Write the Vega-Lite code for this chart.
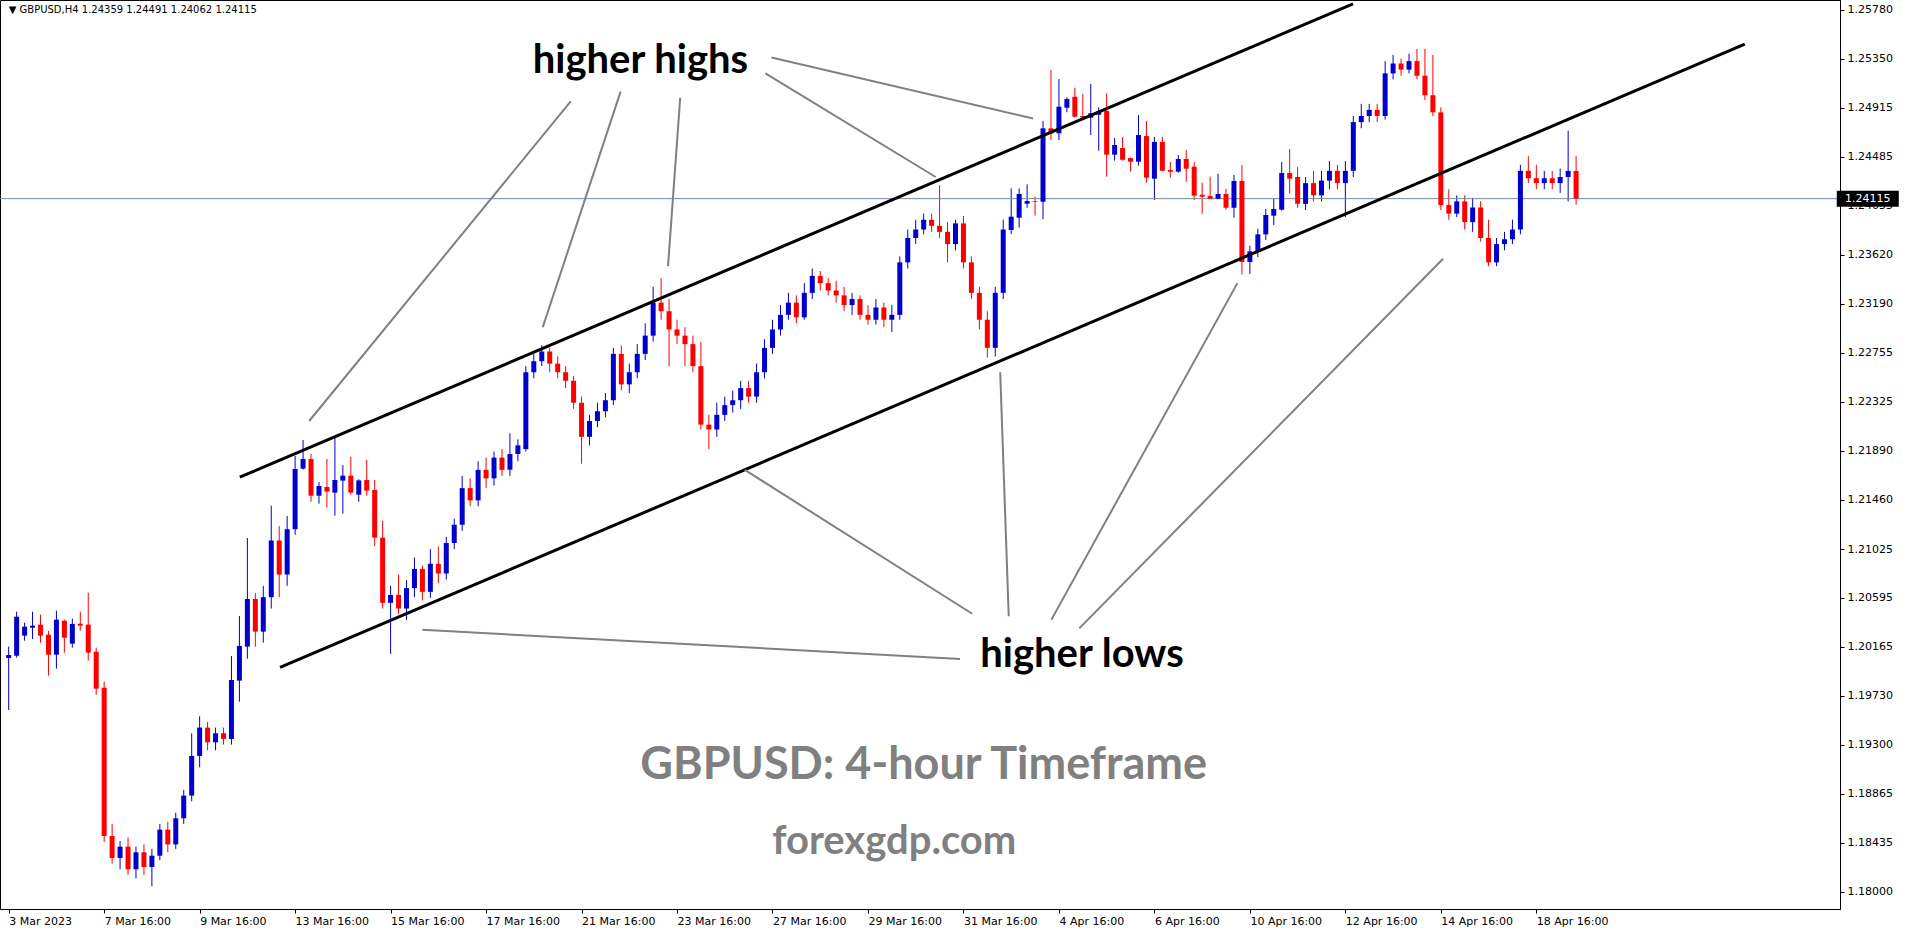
{
"$schema":"https://vega.github.io/schema/vega-lite/v6.json",
"width":1840,"height":909,
"autosize":{"type":"none"},
"padding":{"left":0,"top":0,"right":76,"bottom":27},
"background":"white",
"config":{"view":{"stroke":"black","strokeWidth":1},"font":"DejaVu Sans"},
"datasets":{
"candles":[
{"i":0,"o":1.20064,"h":1.20164,"l":1.19605,"c":1.20090},
{"i":1,"o":1.20084,"h":1.20472,"l":1.20067,"c":1.20428},
{"i":2,"o":1.20261,"h":1.20375,"l":1.20216,"c":1.20340},
{"i":3,"o":1.20331,"h":1.20472,"l":1.20231,"c":1.20349},
{"i":4,"o":1.20358,"h":1.20446,"l":1.20199,"c":1.20261},
{"i":5,"o":1.20269,"h":1.20302,"l":1.19908,"c":1.20093},
{"i":6,"o":1.20093,"h":1.20481,"l":1.19970,"c":1.20402},
{"i":7,"o":1.20393,"h":1.20402,"l":1.20111,"c":1.20243},
{"i":8,"o":1.20190,"h":1.20411,"l":1.20155,"c":1.20364},
{"i":9,"o":1.20366,"h":1.20472,"l":1.20305,"c":1.20349},
{"i":10,"o":1.20358,"h":1.20640,"l":1.20040,"c":1.20111},
{"i":11,"o":1.20119,"h":1.20155,"l":1.19740,"c":1.19793},
{"i":12,"o":1.19802,"h":1.19855,"l":1.18441,"c":1.18494},
{"i":13,"o":1.18494,"h":1.18600,"l":1.18250,"c":1.18300},
{"i":14,"o":1.18300,"h":1.18450,"l":1.18200,"c":1.18400},
{"i":15,"o":1.18400,"h":1.18480,"l":1.18150,"c":1.18200},
{"i":16,"o":1.18200,"h":1.18400,"l":1.18120,"c":1.18350},
{"i":17,"o":1.18350,"h":1.18420,"l":1.18150,"c":1.18220},
{"i":18,"o":1.18220,"h":1.18380,"l":1.18050,"c":1.18320},
{"i":19,"o":1.18320,"h":1.18600,"l":1.18280,"c":1.18550},
{"i":20,"o":1.18550,"h":1.18620,"l":1.18350,"c":1.18420},
{"i":21,"o":1.18420,"h":1.18700,"l":1.18380,"c":1.18650},
{"i":22,"o":1.18650,"h":1.18900,"l":1.18600,"c":1.18850},
{"i":23,"o":1.18850,"h":1.19400,"l":1.18800,"c":1.19200},
{"i":24,"o":1.19200,"h":1.19550,"l":1.19100,"c":1.19450},
{"i":25,"o":1.19450,"h":1.19500,"l":1.19250,"c":1.19320},
{"i":26,"o":1.19320,"h":1.19450,"l":1.19250,"c":1.19400},
{"i":27,"o":1.19400,"h":1.19450,"l":1.19300,"c":1.19350},
{"i":28,"o":1.19350,"h":1.20082,"l":1.19300,"c":1.19870},
{"i":29,"o":1.19864,"h":1.20434,"l":1.19678,"c":1.20170},
{"i":30,"o":1.20164,"h":1.21122,"l":1.20058,"c":1.20584},
{"i":31,"o":1.20584,"h":1.20635,"l":1.20164,"c":1.20296},
{"i":32,"o":1.20296,"h":1.20700,"l":1.20200,"c":1.20600},
{"i":33,"o":1.20600,"h":1.21407,"l":1.20500,"c":1.21100},
{"i":34,"o":1.21100,"h":1.21228,"l":1.20600,"c":1.20800},
{"i":35,"o":1.20800,"h":1.21316,"l":1.20700,"c":1.21200},
{"i":36,"o":1.21200,"h":1.21846,"l":1.21150,"c":1.21731},
{"i":37,"o":1.21734,"h":1.21987,"l":1.21725,"c":1.21819},
{"i":38,"o":1.21819,"h":1.21863,"l":1.21442,"c":1.21495},
{"i":39,"o":1.21495,"h":1.21616,"l":1.21425,"c":1.21581},
{"i":40,"o":1.21572,"h":1.21819,"l":1.21390,"c":1.21531},
{"i":41,"o":1.21522,"h":1.22007,"l":1.21319,"c":1.21634},
{"i":42,"o":1.21628,"h":1.21766,"l":1.21337,"c":1.21672},
{"i":43,"o":1.21672,"h":1.21839,"l":1.21504,"c":1.21522},
{"i":44,"o":1.21504,"h":1.21640,"l":1.21442,"c":1.21630},
{"i":45,"o":1.21634,"h":1.21810,"l":1.21495,"c":1.21540},
{"i":46,"o":1.21546,"h":1.21634,"l":1.21050,"c":1.21125},
{"i":47,"o":1.21125,"h":1.21275,"l":1.20500,"c":1.20550},
{"i":48,"o":1.20550,"h":1.20700,"l":1.20100,"c":1.20620},
{"i":49,"o":1.20620,"h":1.20800,"l":1.20450,"c":1.20500},
{"i":50,"o":1.20500,"h":1.20750,"l":1.20400,"c":1.20680},
{"i":51,"o":1.20680,"h":1.20950,"l":1.20600,"c":1.20850},
{"i":52,"o":1.20850,"h":1.20880,"l":1.20572,"c":1.20647},
{"i":53,"o":1.20647,"h":1.21024,"l":1.20594,"c":1.20895},
{"i":54,"o":1.20895,"h":1.21046,"l":1.20723,"c":1.20809},
{"i":55,"o":1.20809,"h":1.21132,"l":1.20755,"c":1.21078},
{"i":56,"o":1.21078,"h":1.21293,"l":1.21024,"c":1.21239},
{"i":57,"o":1.21239,"h":1.21670,"l":1.21185,"c":1.21562},
{"i":58,"o":1.21562,"h":1.21648,"l":1.21401,"c":1.21454},
{"i":59,"o":1.21454,"h":1.21799,"l":1.21401,"c":1.21723},
{"i":60,"o":1.21723,"h":1.21831,"l":1.21562,"c":1.21648},
{"i":61,"o":1.21648,"h":1.21885,"l":1.21584,"c":1.21831},
{"i":62,"o":1.21831,"h":1.21906,"l":1.21670,"c":1.21723},
{"i":63,"o":1.21723,"h":1.22046,"l":1.21670,"c":1.21863},
{"i":64,"o":1.21863,"h":1.21992,"l":1.21799,"c":1.21939},
{"i":65,"o":1.21906,"h":1.22638,"l":1.21885,"c":1.22584},
{"i":66,"o":1.22584,"h":1.22746,"l":1.22530,"c":1.22681},
{"i":67,"o":1.22681,"h":1.22821,"l":1.22638,"c":1.22767},
{"i":68,"o":1.22767,"h":1.22799,"l":1.22584,"c":1.22660},
{"i":69,"o":1.22660,"h":1.22724,"l":1.22530,"c":1.22584},
{"i":70,"o":1.22584,"h":1.22638,"l":1.22444,"c":1.22509},
{"i":71,"o":1.22509,"h":1.22552,"l":1.22261,"c":1.22315},
{"i":72,"o":1.22315,"h":1.22369,"l":1.21777,"c":1.22014},
{"i":73,"o":1.22014,"h":1.22208,"l":1.21939,"c":1.22154},
{"i":74,"o":1.22154,"h":1.22315,"l":1.22100,"c":1.22240},
{"i":75,"o":1.22240,"h":1.22401,"l":1.22186,"c":1.22337},
{"i":76,"o":1.22337,"h":1.22799,"l":1.22294,"c":1.22746},
{"i":77,"o":1.22746,"h":1.22821,"l":1.22423,"c":1.22477},
{"i":78,"o":1.22477,"h":1.22660,"l":1.22401,"c":1.22584},
{"i":79,"o":1.22584,"h":1.22832,"l":1.22530,"c":1.22746},
{"i":80,"o":1.22746,"h":1.23015,"l":1.22692,"c":1.22907},
{"i":81,"o":1.22907,"h":1.23337,"l":1.22853,"c":1.23198},
{"i":82,"o":1.23198,"h":1.23413,"l":1.23047,"c":1.23122},
{"i":83,"o":1.23122,"h":1.23230,"l":1.22638,"c":1.22961},
{"i":84,"o":1.22961,"h":1.23047,"l":1.22832,"c":1.22907},
{"i":85,"o":1.22907,"h":1.22982,"l":1.22638,"c":1.22832},
{"i":86,"o":1.22832,"h":1.22907,"l":1.22584,"c":1.22638},
{"i":87,"o":1.22638,"h":1.22853,"l":1.22079,"c":1.22122},
{"i":88,"o":1.22122,"h":1.22208,"l":1.21906,"c":1.22079},
{"i":89,"o":1.22079,"h":1.22315,"l":1.22014,"c":1.22208},
{"i":90,"o":1.22208,"h":1.22369,"l":1.22154,"c":1.22294},
{"i":91,"o":1.22294,"h":1.22423,"l":1.22229,"c":1.22337},
{"i":92,"o":1.22337,"h":1.22509,"l":1.22261,"c":1.22444},
{"i":93,"o":1.22444,"h":1.22509,"l":1.22315,"c":1.22369},
{"i":94,"o":1.22369,"h":1.22660,"l":1.22315,"c":1.22584},
{"i":95,"o":1.22584,"h":1.22875,"l":1.22530,"c":1.22799},
{"i":96,"o":1.22799,"h":1.23047,"l":1.22746,"c":1.22961},
{"i":97,"o":1.22961,"h":1.23176,"l":1.22907,"c":1.23090},
{"i":98,"o":1.23090,"h":1.23284,"l":1.23047,"c":1.23198},
{"i":99,"o":1.23198,"h":1.23262,"l":1.23015,"c":1.23068},
{"i":100,"o":1.23068,"h":1.23370,"l":1.23047,"c":1.23284},
{"i":101,"o":1.23284,"h":1.23499,"l":1.23230,"c":1.23434},
{"i":102,"o":1.23434,"h":1.23477,"l":1.23305,"c":1.23370},
{"i":103,"o":1.23370,"h":1.23413,"l":1.23262,"c":1.23305},
{"i":104,"o":1.23305,"h":1.23391,"l":1.23198,"c":1.23262},
{"i":105,"o":1.23262,"h":1.23337,"l":1.23122,"c":1.23176},
{"i":106,"o":1.23176,"h":1.23284,"l":1.23090,"c":1.23230},
{"i":107,"o":1.23230,"h":1.23262,"l":1.23047,"c":1.23090},
{"i":108,"o":1.23090,"h":1.23176,"l":1.23004,"c":1.23047},
{"i":109,"o":1.23047,"h":1.23230,"l":1.23004,"c":1.23155},
{"i":110,"o":1.23155,"h":1.23198,"l":1.22982,"c":1.23047},
{"i":111,"o":1.23047,"h":1.23176,"l":1.22939,"c":1.23090},
{"i":112,"o":1.23090,"h":1.23606,"l":1.23047,"c":1.23553},
{"i":113,"o":1.23553,"h":1.23843,"l":1.23499,"c":1.23768},
{"i":114,"o":1.23768,"h":1.23929,"l":1.23714,"c":1.23843},
{"i":115,"o":1.23843,"h":1.23983,"l":1.23800,"c":1.23929},
{"i":116,"o":1.23929,"h":1.23983,"l":1.23822,"c":1.23875},
{"i":117,"o":1.23875,"h":1.24231,"l":1.23768,"c":1.23822},
{"i":118,"o":1.23822,"h":1.23908,"l":1.23553,"c":1.23714},
{"i":119,"o":1.23714,"h":1.23929,"l":1.23660,"c":1.23897},
{"i":120,"o":1.23897,"h":1.23962,"l":1.23499,"c":1.23553},
{"i":121,"o":1.23553,"h":1.23606,"l":1.23230,"c":1.23284},
{"i":122,"o":1.23284,"h":1.23337,"l":1.22961,"c":1.23047},
{"i":123,"o":1.23047,"h":1.23122,"l":1.22713,"c":1.22799},
{"i":124,"o":1.22799,"h":1.23337,"l":1.22724,"c":1.23284},
{"i":125,"o":1.23284,"h":1.23929,"l":1.23230,"c":1.23843},
{"i":126,"o":1.23839,"h":1.24206,"l":1.23803,"c":1.23956},
{"i":127,"o":1.23947,"h":1.24206,"l":1.23859,"c":1.24156},
{"i":128,"o":1.24070,"h":1.24241,"l":1.24035,"c":1.24094},
{"i":129,"o":1.24094,"h":1.24132,"l":1.23965,"c":1.24088},
{"i":130,"o":1.24088,"h":1.24800,"l":1.23933,"c":1.24735},
{"i":131,"o":1.24735,"h":1.25250,"l":1.24632,"c":1.24691},
{"i":132,"o":1.24691,"h":1.25170,"l":1.24632,"c":1.24926},
{"i":133,"o":1.24917,"h":1.25009,"l":1.24877,"c":1.24994},
{"i":134,"o":1.25014,"h":1.25093,"l":1.24830,"c":1.24838},
{"i":135,"o":1.24844,"h":1.25038,"l":1.24825,"c":1.24829},
{"i":136,"o":1.24829,"h":1.25126,"l":1.24676,"c":1.24868},
{"i":137,"o":1.24855,"h":1.24921,"l":1.24538,"c":1.24882},
{"i":138,"o":1.24888,"h":1.25044,"l":1.24309,"c":1.24503},
{"i":139,"o":1.24503,"h":1.24650,"l":1.24450,"c":1.24588},
{"i":140,"o":1.24562,"h":1.24659,"l":1.24450,"c":1.24458},
{"i":141,"o":1.24473,"h":1.24478,"l":1.24353,"c":1.24441},
{"i":142,"o":1.24441,"h":1.24853,"l":1.24406,"c":1.24676},
{"i":143,"o":1.24667,"h":1.24800,"l":1.24256,"c":1.24300},
{"i":144,"o":1.24291,"h":1.24659,"l":1.24103,"c":1.24615},
{"i":145,"o":1.24615,"h":1.24659,"l":1.24355,"c":1.24361},
{"i":146,"o":1.24368,"h":1.24438,"l":1.24300,"c":1.24353},
{"i":147,"o":1.24353,"h":1.24500,"l":1.24344,"c":1.24465},
{"i":148,"o":1.24465,"h":1.24544,"l":1.24264,"c":1.24379},
{"i":149,"o":1.24397,"h":1.24438,"l":1.24103,"c":1.24141},
{"i":150,"o":1.24150,"h":1.24256,"l":1.23982,"c":1.24132},
{"i":151,"o":1.24138,"h":1.24309,"l":1.24110,"c":1.24114},
{"i":152,"o":1.24114,"h":1.24335,"l":1.24110,"c":1.24156},
{"i":153,"o":1.24156,"h":1.24203,"l":1.24017,"c":1.24035},
{"i":154,"o":1.24035,"h":1.24324,"l":1.23947,"c":1.24271},
{"i":155,"o":1.24271,"h":1.24412,"l":1.23446,"c":1.23556},
{"i":156,"o":1.23556,"h":1.23700,"l":1.23450,"c":1.23650},
{"i":157,"o":1.23650,"h":1.23850,"l":1.23600,"c":1.23800},
{"i":158,"o":1.23800,"h":1.24024,"l":1.23750,"c":1.23971},
{"i":159,"o":1.23965,"h":1.24121,"l":1.23882,"c":1.24024},
{"i":160,"o":1.24017,"h":1.24438,"l":1.24010,"c":1.24341},
{"i":161,"o":1.24341,"h":1.24553,"l":1.24159,"c":1.24291},
{"i":162,"o":1.24306,"h":1.24394,"l":1.24035,"c":1.24070},
{"i":163,"o":1.24069,"h":1.24306,"l":1.24015,"c":1.24252},
{"i":164,"o":1.24252,"h":1.24360,"l":1.24091,"c":1.24144},
{"i":165,"o":1.24144,"h":1.24360,"l":1.24091,"c":1.24274},
{"i":166,"o":1.24274,"h":1.24446,"l":1.24198,"c":1.24360},
{"i":167,"o":1.24360,"h":1.24413,"l":1.24198,"c":1.24252},
{"i":168,"o":1.24252,"h":1.24446,"l":1.23951,"c":1.24360},
{"i":169,"o":1.24360,"h":1.24844,"l":1.24306,"c":1.24790},
{"i":170,"o":1.24790,"h":1.24951,"l":1.24736,"c":1.24844},
{"i":171,"o":1.24844,"h":1.24951,"l":1.24790,"c":1.24898},
{"i":172,"o":1.24898,"h":1.24951,"l":1.24790,"c":1.24844},
{"i":173,"o":1.24844,"h":1.25328,"l":1.24812,"c":1.25220},
{"i":174,"o":1.25220,"h":1.25382,"l":1.25167,"c":1.25307},
{"i":175,"o":1.25307,"h":1.25350,"l":1.25199,"c":1.25253},
{"i":176,"o":1.25253,"h":1.25393,"l":1.25220,"c":1.25328},
{"i":177,"o":1.25328,"h":1.25436,"l":1.25167,"c":1.25199},
{"i":178,"o":1.25199,"h":1.25436,"l":1.24984,"c":1.25027},
{"i":179,"o":1.25027,"h":1.25382,"l":1.24844,"c":1.24876},
{"i":180,"o":1.24876,"h":1.24919,"l":1.24015,"c":1.24058},
{"i":181,"o":1.24058,"h":1.24198,"l":1.23929,"c":1.23983},
{"i":182,"o":1.23983,"h":1.24144,"l":1.23951,"c":1.24091},
{"i":183,"o":1.24091,"h":1.24144,"l":1.23843,"c":1.23908},
{"i":184,"o":1.23908,"h":1.24123,"l":1.23822,"c":1.24037},
{"i":185,"o":1.24037,"h":1.24091,"l":1.23736,"c":1.23768},
{"i":186,"o":1.23768,"h":1.23929,"l":1.23520,"c":1.23553},
{"i":187,"o":1.23553,"h":1.23768,"l":1.23520,"c":1.23714},
{"i":188,"o":1.23714,"h":1.23822,"l":1.23660,"c":1.23757},
{"i":189,"o":1.23757,"h":1.23929,"l":1.23714,"c":1.23843},
{"i":190,"o":1.23843,"h":1.24413,"l":1.23800,"c":1.24360},
{"i":191,"o":1.24360,"h":1.24489,"l":1.24252,"c":1.24295},
{"i":192,"o":1.24295,"h":1.24413,"l":1.24198,"c":1.24252},
{"i":193,"o":1.24252,"h":1.24360,"l":1.24198,"c":1.24295},
{"i":194,"o":1.24295,"h":1.24360,"l":1.24198,"c":1.24252},
{"i":195,"o":1.24252,"h":1.24381,"l":1.24166,"c":1.24306},
{"i":196,"o":1.24306,"h":1.24715,"l":1.24091,"c":1.24360},
{"i":197,"o":1.24359,"h":1.24491,"l":1.24062,"c":1.24115}
],
"channels":[
{"line":"upper","i":29.05,"p":1.21658},{"line":"upper","i":168.96,"p":1.25833},
{"line":"lower","i":34.1,"p":1.19980},{"line":"lower","i":218.2,"p":1.25478}
],
"pointers":[
{"line":"a","i":70.64,"p":1.24973},{"line":"a","i":37.77,"p":1.22154},
{"line":"b","i":76.91,"p":1.25059},{"line":"b","i":67.13,"p":1.22982},
{"line":"c","i":84.40,"p":1.25005},{"line":"c","i":82.87,"p":1.23520},
{"line":"d","i":95.11,"p":1.25220},{"line":"d","i":116.51,"p":1.24306},
{"line":"e","i":95.87,"p":1.25360},{"line":"e","i":128.75,"p":1.24822},
{"line":"f","i":121.10,"p":1.20454},{"line":"f","i":92.51,"p":1.21723},
{"line":"g","i":125.69,"p":1.20432},{"line":"g","i":124.62,"p":1.22584},
{"line":"h","i":131.04,"p":1.20400},{"line":"h","i":154.43,"p":1.23370},
{"line":"k","i":134.56,"p":1.20325},{"line":"k","i":180.28,"p":1.23585},
{"line":"m","i":119.57,"p":1.20055},{"line":"m","i":51.99,"p":1.20313}
],
"texts":[
{"kind":"note","text":"higher highs","i":79.4,"p":1.25329},
{"kind":"note","text":"higher lows","i":134.9,"p":1.20090},
{"kind":"title","text":"GBPUSD: 4-hour Timeframe","i":115.0,"p":1.19120},
{"kind":"site","text":"forexgdp.com","i":111.3,"p":1.18441},
{"kind":"header","text":"▼ GBPUSD,H4  1.24359 1.24491 1.24062 1.24115","i":0.0,"p":1.25779}
],
"last":[{"p":1.24115,"label":"1.24115","i":233.66}]
},
"layer":[
{"data":{"name":"candles"},"mark":{"type":"rule","strokeWidth":1},
 "encoding":{
  "x":{"field":"i","type":"quantitative","title":null,"scale":{"domain":[-0.4625,229.54],"nice":false,"zero":false},
   "axis":{"values":[0,12,24,36,48,60,72,84,96,108,120,132,144,156,168,180,192],
    "labelExpr":"['3 Mar 2023','7 Mar 16:00','9 Mar 16:00','13 Mar 16:00','15 Mar 16:00','17 Mar 16:00','21 Mar 16:00','23 Mar 16:00','27 Mar 16:00','29 Mar 16:00','31 Mar 16:00','4 Apr 16:00','6 Apr 16:00','10 Apr 16:00','12 Apr 16:00','14 Apr 16:00','18 Apr 16:00'][round(datum.value/12)]",
    "labelAlign":"left","labelFlush":false,"labelOverlap":false,"labelBound":false,"tickSize":4,"labelPadding":2,"grid":false,"title":null,
    "labelFont":"DejaVu Sans","labelFontSize":11,"labelColor":"black","domainColor":"black","tickColor":"black"}},
  "y":{"field":"l","type":"quantitative","title":null,"scale":{"domain":[1.1785,1.25867],"nice":false,"zero":false},
   "axis":{"orient":"right","values":[1.18,1.18435,1.18865,1.193,1.1973,1.20165,1.20595,1.21025,1.2146,1.2189,1.22325,1.22755,1.2319,1.2362,1.24055,1.24485,1.24915,1.2535,1.2578],
    "format":".5f","title":null,"grid":false,"tickSize":4,"labelPadding":3,"labelFont":"DejaVu Sans","labelFontSize":11,"labelColor":"black","domainColor":"black","tickColor":"black","labelOverlap":false,"labelBound":false}},
  "y2":{"field":"h"},
  "color":{"condition":{"test":"datum.c >= datum.o","value":"#0000CC"},"value":"#FF0000"}}},
{"data":{"name":"last"},"mark":{"type":"rule","color":"#778899","strokeWidth":1},
 "encoding":{"y":{"field":"p","type":"quantitative","title":null,"scale":{"domain":[1.1785,1.25867],"nice":false,"zero":false}}}},
{"data":{"name":"candles"},"mark":{"type":"bar","width":5},
 "encoding":{
  "x":{"field":"i","type":"quantitative","title":null,"scale":{"domain":[-0.4625,229.54],"nice":false,"zero":false}},
  "y":{"field":"o","type":"quantitative","title":null,"scale":{"domain":[1.1785,1.25867],"nice":false,"zero":false}},
  "y2":{"field":"c"},
  "color":{"condition":{"test":"datum.c >= datum.o","value":"#0000CC"},"value":"#FF0000"}}},
{"data":{"name":"channels"},"mark":{"type":"line","color":"black","strokeWidth":3},
 "encoding":{"detail":{"field":"line"},
  "x":{"field":"i","type":"quantitative","title":null,"scale":{"domain":[-0.4625,229.54],"nice":false,"zero":false}},
  "y":{"field":"p","type":"quantitative","title":null,"scale":{"domain":[1.1785,1.25867],"nice":false,"zero":false}}}},
{"data":{"name":"pointers"},"mark":{"type":"line","color":"#808080","strokeWidth":2},
 "encoding":{"detail":{"field":"line"},
  "x":{"field":"i","type":"quantitative","title":null,"scale":{"domain":[-0.4625,229.54],"nice":false,"zero":false}},
  "y":{"field":"p","type":"quantitative","title":null,"scale":{"domain":[1.1785,1.25867],"nice":false,"zero":false}}}},
{"data":{"name":"texts"},"transform":[{"filter":"datum.kind == 'note'"}],
 "mark":{"type":"text","font":"Lato","fontWeight":"bold","fontSize":40,"color":"black","align":"center","baseline":"middle"},
 "encoding":{"text":{"field":"text"},
  "x":{"field":"i","type":"quantitative","title":null,"scale":{"domain":[-0.4625,229.54],"nice":false,"zero":false}},
  "y":{"field":"p","type":"quantitative","title":null,"scale":{"domain":[1.1785,1.25867],"nice":false,"zero":false}}}},
{"data":{"name":"texts"},"transform":[{"filter":"datum.kind == 'title'"}],
 "mark":{"type":"text","font":"Lato","fontWeight":"bold","fontSize":45,"color":"#808080","align":"center","baseline":"middle"},
 "encoding":{"text":{"field":"text"},
  "x":{"field":"i","type":"quantitative","title":null,"scale":{"domain":[-0.4625,229.54],"nice":false,"zero":false}},
  "y":{"field":"p","type":"quantitative","title":null,"scale":{"domain":[1.1785,1.25867],"nice":false,"zero":false}}}},
{"data":{"name":"texts"},"transform":[{"filter":"datum.kind == 'site'"}],
 "mark":{"type":"text","font":"Lato","fontWeight":"bold","fontSize":40,"color":"#808080","align":"center","baseline":"middle"},
 "encoding":{"text":{"field":"text"},
  "x":{"field":"i","type":"quantitative","title":null,"scale":{"domain":[-0.4625,229.54],"nice":false,"zero":false}},
  "y":{"field":"p","type":"quantitative","title":null,"scale":{"domain":[1.1785,1.25867],"nice":false,"zero":false}}}},
{"data":{"name":"texts"},"transform":[{"filter":"datum.kind == 'header'"}],
 "mark":{"type":"text","font":"DejaVu Sans","fontSize":10,"color":"black","align":"left","baseline":"middle"},
 "encoding":{"text":{"field":"text"},
  "x":{"field":"i","type":"quantitative","title":null,"scale":{"domain":[-0.4625,229.54],"nice":false,"zero":false}},
  "y":{"field":"p","type":"quantitative","title":null,"scale":{"domain":[1.1785,1.25867],"nice":false,"zero":false}}}},
{"data":{"name":"last"},"mark":{"type":"tick","orient":"horizontal","color":"black","size":62,"thickness":16,"opacity":1},
 "encoding":{
  "x":{"field":"i","type":"quantitative","title":null,"scale":{"domain":[-0.4625,229.54],"nice":false,"zero":false}},
  "y":{"field":"p","type":"quantitative","title":null,"scale":{"domain":[1.1785,1.25867],"nice":false,"zero":false}}}},
{"data":{"name":"last"},"mark":{"type":"text","font":"DejaVu Sans","fontSize":11,"color":"white","align":"center","baseline":"middle"},
 "encoding":{"text":{"field":"label"},
  "x":{"field":"i","type":"quantitative","title":null,"scale":{"domain":[-0.4625,229.54],"nice":false,"zero":false}},
  "y":{"field":"p","type":"quantitative","title":null,"scale":{"domain":[1.1785,1.25867],"nice":false,"zero":false}}}}
]
}
